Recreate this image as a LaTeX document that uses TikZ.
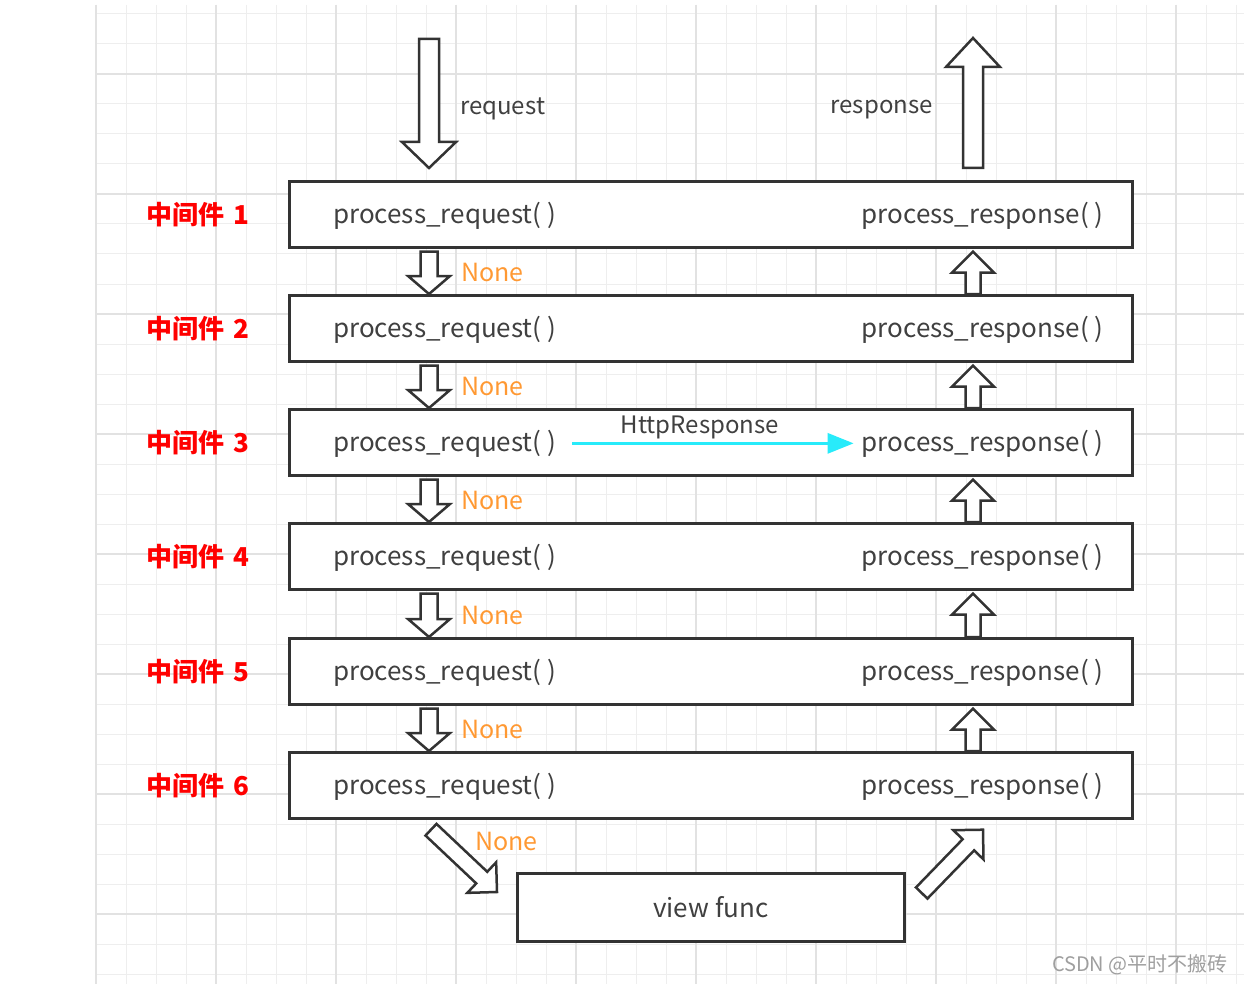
\documentclass[tikz,border=0pt]{standalone}
\usepackage{fontspec}
\setmainfont{Noto Sans CJK SC}
\usepackage{tikz}
\usetikzlibrary{calc,arrows.meta,positioning}
\definecolor{txtgray}{RGB}{64,64,64}
\definecolor{boxgray}{RGB}{51,51,51}
\definecolor{nonecol}{RGB}{255,153,51}
\definecolor{httpcyan}{RGB}{40,235,250}
\definecolor{gridminor}{RGB}{238,238,238}
\definecolor{gridmajor}{RGB}{226,226,226}

% hollow block arrow: from, to, shaft half width, head half width, head length
\newcommand{\hollowarrow}[5]{%
  \coordinate (hb) at ($(#2)!#5!(#1)$);
  \draw[line width=2.5pt, draw=boxgray, fill=white, line join=miter]
    ($(#1)!#3!90:(#2)$) -- ($(hb)!#3!-90:(#1)$) -- ($(hb)!#4!-90:(#1)$) -- (#2)
    -- ($(hb)!#4!90:(#1)$) -- ($(hb)!#3!90:(#1)$) -- ($(#1)!#3!-90:(#2)$) -- cycle;
}

\begin{document}
\begin{tikzpicture}[x=1pt, y=-1pt,
  mwbox/.style={draw=boxgray, line width=2.7pt, fill=white, minimum width=843pt,
    minimum height=66pt, inner sep=0pt, anchor=north west},
  fn/.style={text=txtgray, font=\fontsize{26}{30}\selectfont, inner sep=0pt},
  lbl/.style={text=txtgray, font=\fontsize{24}{28}\selectfont, inner sep=0pt},
  mwlabel/.style={text=red, font=\fontsize{26}{30}\selectfont\bfseries, inner sep=0pt},
  nonelabel/.style={text=nonecol, font=\fontsize{25}{30}\selectfont, inner sep=0pt, anchor=west}]
\useasboundingbox (0,0) rectangle (1244,984);
\fill[white] (0,0) rectangle (1244,984);
% grid
\foreach \x in {96,126,...,1244} \draw[gridminor, line width=1pt] (\x,5) -- (\x,984);
\foreach \y in {14,44,...,984} \draw[gridminor, line width=1pt] (95,\y) -- (1244,\y);
\foreach \x in {96,216,...,1244} \draw[gridmajor, line width=1.2pt] (\x,5) -- (\x,984);
\foreach \y in {74,194,...,984} \draw[gridmajor, line width=1.2pt] (95,\y) -- (1244,\y);

\coordinate (inx) at (429,0);
\coordinate (outx) at (973,0);

% middleware boxes
\foreach \i/\y in {1/180,2/294,3/408,4/522,5/637,6/751} {
  \node[mwbox] (box\i) at (288,\y) {};
  \node[fn, anchor=west] (req\i) at ($(box\i.west)+(45,1)$) {process\_request( )};
  \node[fn, anchor=east] (resp\i) at ($(box\i.east)+(-30,1)$) {process\_response( )};
  \node[mwlabel, anchor=east] (mw\i) at ($(box\i.west)+(-38,0)$) {中间件\hspace{0.35em}\i};
}

% between the boxes
\foreach \i [evaluate=\i as \j using int(\i+1)] in {1,...,5} {
  \coordinate (dna\i) at ($(box\i.south -| inx)+(0,3)$);
  \coordinate (dnb\i) at (box\j.north -| inx);
  \hollowarrow{dna\i}{dnb\i}{8.5pt}{21pt}{18pt}
  \node[nonelabel] (none\i) at ($(dna\i)!0.5!(dnb\i)+(32,0)$) {None};
  \coordinate (upa\i) at (box\j.north -| outx);
  \coordinate (upb\i) at ($(box\i.south -| outx)+(0,3)$);
  \hollowarrow{upa\i}{upb\i}{7.5pt}{21pt}{21pt}
}

% request / response
\coordinate (reqtop) at (429,39);
\coordinate (reqtip) at ($(box1.north -| inx)+(0,-12)$);
\hollowarrow{reqtop}{reqtip}{10pt}{27pt}{26pt}
\node[lbl, anchor=west] (reqlabel) at ($(reqtop)!0.5!(reqtip)+(31,5)$) {request};
\coordinate (resptip) at (973,38);
\coordinate (respbot) at ($(box1.north -| outx)+(0,-12)$);
\hollowarrow{respbot}{resptip}{10pt}{27pt}{29pt}
\node[lbl, anchor=east] (resplabel) at ($(respbot)!0.5!(resptip)+(-40,7)$) {response};

% short cut in middleware 3
\draw[httpcyan, line width=3pt, -{Triangle[length=26pt,width=20pt]},
  shorten <=16pt, shorten >=8pt] (req3) -- node[lbl, pos=0.47, above=3pt] (http) {HttpResponse} (resp3);

% view function
\node[mwbox, minimum width=387pt, minimum height=68pt, font=\fontsize{26}{30}\selectfont,
  text=txtgray] (view) at (516,872) {view func};
\coordinate (lda) at ($(box6.south -| inx)+(2,10)$);
\coordinate (ldb) at ($(view.north west)+(-19,20)$);
\hollowarrow{lda}{ldb}{8pt}{21pt}{21pt}
\node[nonelabel] (none6) at ($(lda)+(44,12)$) {None};
\coordinate (rda) at ($(view.north east)+(16,21)$);
\coordinate (rdb) at ($(box6.south -| outx)+(10,10)$);
\hollowarrow{rda}{rdb}{8pt}{21pt}{21pt}

\node[text=gray!75, font=\fontsize{20}{24}\selectfont, anchor=east, inner sep=0pt] (mark)
  at (1228,965) {CSDN @平时不搬砖};
\end{tikzpicture}
\end{document}
